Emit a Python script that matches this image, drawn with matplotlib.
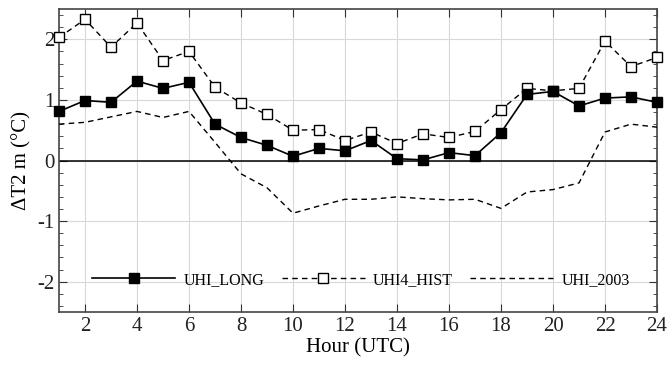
import matplotlib
matplotlib.use("Agg")
from matplotlib import pyplot as plt
from matplotlib.ticker import MultipleLocator

hours = list(range(1, 25))
uhi_long = [0.81, 0.99, 0.96, 1.31, 1.19, 1.29, 0.60, 0.38, 0.25, 0.07, 0.20, 0.16,
            0.33, 0.03, 0.01, 0.13, 0.08, 0.46, 1.09, 1.14, 0.90, 1.03, 1.05, 0.96]
uhi4_hist = [2.03, 2.33, 1.87, 2.27, 1.65, 1.80, 1.21, 0.95, 0.76, 0.50, 0.51, 0.33,
             0.47, 0.28, 0.44, 0.38, 0.48, 0.84, 1.19, 1.15, 1.19, 1.97, 1.55, 1.70]
uhi_2003 = [0.60, 0.63, 0.72, 0.81, 0.71, 0.81, 0.30, -0.22, -0.45, -0.87, -0.75, -0.64,
            -0.64, -0.60, -0.63, -0.65, -0.64, -0.79, -0.52, -0.48, -0.37, 0.47, 0.60, 0.55]

plt.rcParams['font.family'] = ['Liberation Serif', 'DejaVu Serif']
plt.rcParams['axes.unicode_minus'] = False

fig = plt.figure(figsize=(6.71, 3.69), dpi=100)
ax = fig.add_axes([59/671, 57/369, 598/671, 303/369])

ax.axhline(0, color="black", lw=1.1, zorder=2)
ax.plot(hours, uhi_long, color="black", lw=1.2, marker="s", markersize=7,
        markerfacecolor="black", label="UHI_LONG", zorder=4, clip_on=False)
ax.plot(hours, uhi4_hist, color="black", lw=1.0, ls=(0, (4, 3)), marker="s",
        markersize=6.5, markerfacecolor="white", markeredgewidth=1.0,
        label="UHI4_HIST", zorder=3, clip_on=False)
ax.plot(hours, uhi_2003, color="black", lw=1.0, ls=(0, (4, 3)), label="UHI_2003", zorder=3)

ax.set_xlim(1, 24)
ax.set_ylim(-2.5, 2.5)
ax.set_xticks(range(2, 25, 2))
ax.set_yticks([-2, -1, 0, 1, 2])
ax.yaxis.set_minor_locator(MultipleLocator(0.2))
ax.grid(True, color="#d8d8d8", lw=0.8)
ax.set_axisbelow(True)

ax.tick_params(axis="both", which="both", direction="in", top=True, right=True,
               labelsize=15, colors="#333333", labelcolor="#222222")
ax.tick_params(which="major", length=6)
ax.tick_params(which="minor", length=3)
for s in ax.spines.values():
    s.set_color("#444444")
    s.set_linewidth(1.2)

ax.set_xlabel("Hour (UTC)", fontsize=15, labelpad=2)
ax.set_ylabel("ΔT2 m (°C)", fontsize=15, labelpad=4)

ax.legend(loc="center", bbox_to_anchor=(0.505, 0.106), ncol=3, frameon=False,
          fontsize=11.5, handlelength=5.2, handletextpad=0.5, columnspacing=1.1)

fig.savefig("out.png", dpi=100)
